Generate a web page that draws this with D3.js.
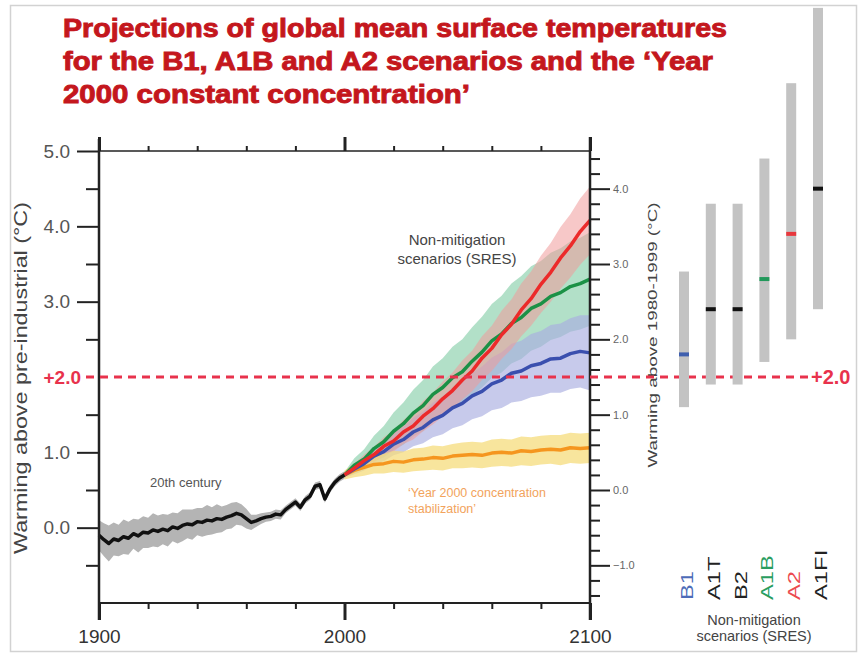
<!DOCTYPE html>
<html>
<head>
<meta charset="utf-8">
<script src="https://cdn.jsdelivr.net/npm/d3@7"></script>
<style>
body { margin: 0; background: #fff; }
text { font-family: "Liberation Sans", Arial, sans-serif; }
</style>
</head>
<body>
<div id="chart"></div>
<script>
// 20th century observations (warming above pre-industrial)
var histYears = [1900,1902,1904,1906,1908,1910,1912,1914,1916,1918,1920,1922,1924,1926,1928,1930,1932,1934,1936,1938,
    1940,1942,1944,1946,1948,1950,1952,1954,1956,1958,1960,1962,1964,1966,1968,1970,1972,1974,1976,1978,
    1980,1982,1984,1986,1988,1990,1992,1994,1996,1998,2000];
var histTemp = [-0.10,-0.16,-0.21,-0.15,-0.17,-0.12,-0.14,-0.08,-0.11,-0.06,-0.07,-0.03,-0.05,-0.02,-0.04,0.01,-0.01,0.03,0.05,0.04,
    0.08,0.07,0.10,0.09,0.12,0.11,0.14,0.16,0.19,0.17,0.12,0.07,0.09,0.12,0.14,0.15,0.18,0.17,0.24,0.29,
    0.34,0.27,0.37,0.42,0.55,0.57,0.38,0.51,0.60,0.66,0.70];
var histSpread = [0.20,0.22,0.24,0.22,0.21,0.23,0.22,0.20,0.22,0.21,0.20,0.22,0.21,0.20,0.21,0.19,0.20,0.21,0.19,0.20,
    0.18,0.19,0.20,0.18,0.19,0.17,0.16,0.17,0.15,0.14,0.13,0.10,0.08,0.07,0.06,0.06,0.06,0.06,0.05,0.05,
    0.05,0.05,0.05,0.05,0.05,0.05,0.05,0.05,0.05,0.05,0.05];

// projections
var projYears = [2000,2004,2008,2012,2016,2020,2024,2028,2032,2036,2040,2044,2048,2052,2056,2060,2064,2068,2072,2076,2080,2084,2088,2092,2096,2100];
var b1 = [0.70,0.78,0.85,0.95,1.01,1.11,1.17,1.27,1.33,1.43,1.49,1.59,1.65,1.75,1.81,1.91,1.96,2.05,2.08,2.15,2.18,2.24,2.25,2.31,2.34,2.32];
var a1b = [0.70,0.83,0.91,1.05,1.14,1.28,1.38,1.52,1.62,1.77,1.86,1.99,2.07,2.21,2.33,2.48,2.57,2.71,2.79,2.91,2.97,3.07,3.12,3.20,3.24,3.30];
var a2 = [0.70,0.79,0.89,0.97,1.08,1.15,1.27,1.35,1.48,1.58,1.71,1.82,1.96,2.08,2.25,2.38,2.56,2.70,2.89,3.04,3.23,3.39,3.58,3.74,3.93,4.08];
var commit = [0.70,0.76,0.80,0.84,0.85,0.88,0.87,0.90,0.91,0.93,0.92,0.95,0.96,0.97,0.96,0.99,1.00,0.99,1.02,1.01,1.03,1.04,1.03,1.06,1.05,1.06];
var b1Spread = [0.04,0.07,0.09,0.11,0.13,0.15,0.17,0.19,0.21,0.23,0.25,0.27,0.29,0.31,0.33,0.35,0.37,0.39,0.40,0.42,0.43,0.45,0.46,0.47,0.48,0.50];
var a1bSpread = [0.04,0.09,0.13,0.17,0.21,0.25,0.28,0.31,0.34,0.37,0.39,0.41,0.43,0.45,0.47,0.49,0.51,0.53,0.55,0.56,0.57,0.58,0.59,0.60,0.61,0.62];
var a2Spread = [0.04,0.06,0.08,0.10,0.12,0.14,0.16,0.18,0.20,0.21,0.23,0.24,0.26,0.27,0.29,0.30,0.32,0.33,0.35,0.36,0.38,0.39,0.41,0.42,0.44,0.45];
var commitSpread = [0.06,0.09,0.11,0.12,0.13,0.14,0.14,0.15,0.15,0.16,0.16,0.16,0.17,0.17,0.17,0.18,0.18,0.18,0.19,0.19,0.19,0.19,0.20,0.20,0.20,0.20];

// 2090-2099 ranges (relative to 1980-1999)
var scenarios = ["B1", "A1T", "B2", "A1B", "A2", "A1FI"];
var bestEst = [1.8, 2.4, 2.4, 2.8, 3.4, 4.0];
var rangeLow = [1.1, 1.4, 1.4, 1.7, 2.0, 2.4];
var rangeHigh = [2.9, 3.8, 3.8, 4.4, 5.4, 6.4];
var scenColors = ["#3f5fae", "#111", "#111", "#21985a", "#e8383d", "#111"];
var labelColors = ["#4d6cb8", "#222", "#222", "#2a9d5f", "#ec4a4f", "#222"];

var leftMajor = [0, 1, 3, 4, 5];
var leftMinor = [-0.5, 0.5, 1.5, 2.5, 3.5, 4.5];
var rightMajor = [-1, 0, 1, 2, 3, 4];
var rightMinor = [-1.4, -1.2, -0.8, -0.6, -0.4, -0.2, 0.2, 0.4, 0.6, 0.8, 1.2, 1.4, 1.6, 1.8, 2.2, 2.4, 2.6, 2.8, 3.2, 3.4, 3.6, 3.8, 4.2, 4.4];
var yearMajor = [1900, 2000, 2100];
var yearMinor = [1920, 1940, 1960, 1980, 2020, 2040, 2060, 2080];

var width = 859, height = 655;

var svg = d3.select("#chart").append("svg")
    .attr("width", width)
    .attr("height", height);

// outer frame
svg.append("rect")
    .attr("x", 10.5).attr("y", 5.5)
    .attr("width", 846).attr("height", 646)
    .attr("fill", "none").attr("stroke", "#d2d2d2").attr("stroke-width", 1.5);

var x = d3.scaleLinear().domain([1900, 2100]).range([99, 590]);
var y = d3.scaleLinear().domain([-1, 5]).range([603, 151]);
var yR = d3.scaleLinear().domain([-1.5, 4.5]).range([603, 151]);

// title
var titleLines = ["Projections of global mean surface temperatures",
    "for the B1, A1B and A2 scenarios and the \u2018Year",
    "2000 constant concentration\u2019"];
var titleLen = [664, 650, 407];
svg.selectAll(".title").data(titleLines).enter().append("text")
    .attr("class", "title")
    .attr("x", 63)
    .attr("y", function (d, i) { return 37 + i * 33; })
    .attr("textLength", function (d, i) { return titleLen[i]; })
    .attr("lengthAdjust", "spacingAndGlyphs")
    .attr("fill", "#c4171d").attr("stroke", "#c4171d").attr("stroke-width", 0.9)
    .style("font-size", "25px").style("font-weight", "bold")
    .text(function (d) { return d; });

// bands
function band(spread, vals) {
    return d3.area()
        .x(function (d, i) { return x(projYears[i]); })
        .y0(function (d, i) { return y(vals[i] - spread[i]); })
        .y1(function (d, i) { return y(vals[i] + spread[i]); })(vals);
}

svg.append("path")
    .attr("d", d3.area()
        .x(function (d, i) { return x(histYears[i]); })
        .y0(function (d, i) { return y(histTemp[i] - histSpread[i]); })
        .y1(function (d, i) { return y(histTemp[i] + histSpread[i]); })(histTemp))
    .attr("fill", "#b4b4b4");

svg.append("path").attr("d", band(a1bSpread, a1b)).attr("fill", "#7fcca4").attr("fill-opacity", 0.6);
svg.append("path").attr("d", band(b1Spread, b1)).attr("fill", "#a9aee0").attr("fill-opacity", 0.65);
svg.append("path").attr("d", band(a2Spread, a2)).attr("fill", "#f09a9a").attr("fill-opacity", 0.55);
svg.append("path").attr("d", band(commitSpread, commit)).attr("fill", "#f6dc7c").attr("fill-opacity", 0.75);

// lines
function line(years, vals) {
    return d3.line()
        .x(function (d, i) { return x(years[i]); })
        .y(function (d) { return y(d); })(vals);
}
var series = [
    { vals: commit, color: "#f5961f" },
    { vals: b1, color: "#3a4fae" },
    { vals: a1b, color: "#1b9146" },
    { vals: a2, color: "#ec2a2a" }
];
svg.selectAll(".proj").data(series).enter().append("path")
    .attr("class", "proj")
    .attr("d", function (d) { return line(projYears, d.vals); })
    .attr("fill", "none")
    .attr("stroke", function (d) { return d.color; })
    .attr("stroke-width", 3.5)
    .attr("stroke-linejoin", "round");

svg.append("path")
    .attr("d", line(histYears, histTemp))
    .attr("fill", "none").attr("stroke", "#111").attr("stroke-width", 3.5)
    .attr("stroke-linejoin", "round");

// frame lines
var axisColor = "#222";
svg.append("line").attr("x1", x(1900)).attr("x2", x(2100)).attr("y1", y(-1)).attr("y2", y(-1))
    .attr("stroke", axisColor).attr("stroke-width", 2);
svg.append("line").attr("x1", x(1900)).attr("x2", x(2100)).attr("y1", y(5)).attr("y2", y(5))
    .attr("stroke", axisColor).attr("stroke-width", 1.5);

// bottom axis
var bottomMajor = svg.append("g").attr("transform", "translate(0," + y(-1) + ")")
    .call(d3.axisBottom(x).tickValues(yearMajor).tickSize(17).tickFormat(d3.format("d")));
var bottomMinor = svg.append("g").attr("transform", "translate(0," + y(-1) + ")")
    .call(d3.axisBottom(x).tickValues(yearMinor).tickSize(6).tickFormat(""));
var topMajor = svg.append("g").attr("transform", "translate(0," + y(5) + ")")
    .call(d3.axisTop(x).tickValues(yearMajor).tickSize(14).tickFormat(""));
var topMinor = svg.append("g").attr("transform", "translate(0," + y(5) + ")")
    .call(d3.axisTop(x).tickValues(yearMinor).tickSize(5).tickFormat(""));

// left axis
var leftMaj = svg.append("g").attr("transform", "translate(" + x(1900) + ",0)")
    .call(d3.axisLeft(y).tickValues(leftMajor).tickSize(22).tickPadding(7).tickFormat(d3.format(".1f")));
var leftMin = svg.append("g").attr("transform", "translate(" + x(1900) + ",0)")
    .call(d3.axisLeft(y).tickValues(leftMinor).tickSize(13).tickFormat(""));

// right axis
var rightMaj = svg.append("g").attr("transform", "translate(" + x(2100) + ",0)")
    .call(d3.axisRight(yR).tickValues(rightMajor).tickSize(20).tickPadding(3).tickFormat(d3.format(".1f")));
var rightMin = svg.append("g").attr("transform", "translate(" + x(2100) + ",0)")
    .call(d3.axisRight(yR).tickValues(rightMinor).tickSize(10).tickFormat(""));

[bottomMajor, bottomMinor, topMajor, topMinor, leftMaj, leftMin, rightMaj, rightMin].forEach(function (g) {
    g.select(".domain").remove();
    g.selectAll(".tick line").attr("stroke", axisColor).attr("stroke-width", 2);
    g.selectAll("text").attr("font-family", null);
});
bottomMajor.selectAll(".tick line").attr("stroke-width", 3);
topMajor.selectAll(".tick line").attr("stroke-width", 3);
bottomMajor.selectAll("text").style("font-size", "19px").attr("fill", "#333").attr("dy", "1.05em");
leftMaj.selectAll("text").style("font-size", "19px").attr("fill", "#555");
rightMaj.selectAll("text").style("font-size", "11px").attr("fill", "#666");

// vertical axis lines
svg.append("line").attr("x1", x(1900)).attr("x2", x(1900)).attr("y1", y(5) - 12).attr("y2", y(-1) + 17)
    .attr("stroke", axisColor).attr("stroke-width", 2.5);
svg.append("line").attr("x1", x(2100)).attr("x2", x(2100)).attr("y1", y(5) - 14).attr("y2", y(-1) + 17)
    .attr("stroke", axisColor).attr("stroke-width", 2.5);

// axis titles
svg.append("text")
    .attr("transform", "translate(27," + 378 + ") rotate(-90)")
    .attr("text-anchor", "middle")
    .attr("textLength", 352).attr("lengthAdjust", "spacingAndGlyphs")
    .attr("fill", "#444").style("font-size", "19px")
    .text("Warming above pre-industrial (\u00B0C)");
svg.append("text")
    .attr("transform", "translate(657," + 335 + ") rotate(-90)")
    .attr("text-anchor", "middle")
    .attr("textLength", 265).attr("lengthAdjust", "spacingAndGlyphs")
    .attr("fill", "#444").style("font-size", "13px")
    .text("Warming above 1980-1999 (\u00B0C)");

// +2.0 threshold
svg.append("line")
    .attr("x1", 86).attr("x2", 808).attr("y1", y(2)).attr("y2", y(2))
    .attr("stroke", "#e8324c").attr("stroke-width", 3).attr("stroke-dasharray", "8,6");
svg.append("text").attr("x", 81).attr("y", y(2)).attr("dy", "0.35em")
    .attr("text-anchor", "end").attr("fill", "#e8324c")
    .style("font-size", "19px").style("font-weight", "bold").text("+2.0");
svg.append("text").attr("x", 811).attr("y", y(2)).attr("dy", "0.35em")
    .attr("fill", "#e8324c")
    .style("font-size", "20px").style("font-weight", "bold").text("+2.0");

// annotations
svg.append("text").attr("x", 457).attr("y", 245).attr("text-anchor", "middle")
    .attr("fill", "#444").style("font-size", "15px").text("Non-mitigation");
svg.append("text").attr("x", 457).attr("y", 264).attr("text-anchor", "middle")
    .attr("fill", "#444").style("font-size", "15px").text("scenarios (SRES)");
svg.append("text").attr("x", 150).attr("y", 487)
    .attr("fill", "#555").style("font-size", "13px").text("20th century");
svg.append("text").attr("x", 408).attr("y", 497)
    .attr("fill", "#f2a35c").style("font-size", "12.5px").text("\u2018Year 2000 concentration");
svg.append("text").attr("x", 408).attr("y", 513)
    .attr("fill", "#f2a35c").style("font-size", "12.5px").text("stabilization\u2019");

// scenario range bars
var xb = d3.scalePoint().domain(scenarios).range([684, 818]);
var barW = 10;
svg.selectAll(".bar").data(scenarios).enter().append("rect")
    .attr("class", "bar")
    .attr("x", function (d) { return xb(d) - barW / 2; })
    .attr("y", function (d, i) { return yR(rangeHigh[i]); })
    .attr("width", barW)
    .attr("height", function (d, i) { return yR(rangeLow[i]) - yR(rangeHigh[i]); })
    .attr("fill", "#c3c3c3");
svg.selectAll(".best").data(scenarios).enter().append("rect")
    .attr("class", "best")
    .attr("x", function (d) { return xb(d) - barW / 2; })
    .attr("y", function (d, i) { return yR(bestEst[i]) - 2; })
    .attr("width", barW)
    .attr("height", 4)
    .attr("fill", function (d, i) { return scenColors[i]; });

svg.selectAll(".scen").data(scenarios).enter().append("text")
    .attr("class", "scen")
    .attr("transform", function (d) { return "translate(" + (xb(d) + 9) + ",600) rotate(-90) scale(1.4,1)"; })
    .attr("fill", function (d, i) { return labelColors[i]; })
    .style("font-size", "17px")
    .text(function (d) { return d; });

svg.append("text").attr("x", 754).attr("y", 625).attr("text-anchor", "middle")
    .attr("fill", "#444").style("font-size", "14.5px").text("Non-mitigation");
svg.append("text").attr("x", 754).attr("y", 641).attr("text-anchor", "middle")
    .attr("fill", "#444").style("font-size", "14.5px").text("scenarios (SRES)");
</script>
</body>
</html>
